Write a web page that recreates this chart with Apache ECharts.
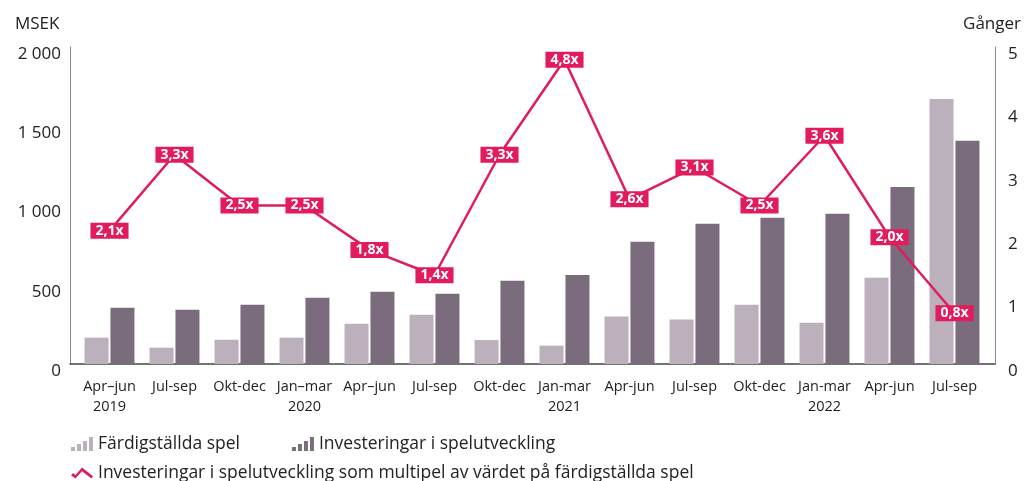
<!DOCTYPE html>
<html>
<head>
<meta charset="utf-8">
<script src="https://cdn.jsdelivr.net/npm/echarts@6/dist/echarts.min.js"></script>
<style>
  html, body { margin: 0; padding: 0; background: #fff; }
  #chart { width: 1031px; height: 481px; }
</style>
</head>
<body>
<div id="chart"></div>
<script>
const quarterLabels = ['Apr–jun', 'Jul-sep', 'Okt-dec', 'Jan–mar', 'Apr–jun', 'Jul-sep', 'Okt-dec',
  'Jan-mar', 'Apr-jun', 'Jul-sep', 'Okt-dec', 'Jan-mar', 'Apr-jun', 'Jul-sep'];
const yearLabels = ['2019', '', '', '2020', '', '', '', '2021', '', '', '', '2022', '', ''];
const completedGames = [166, 103, 153, 166, 254, 311, 151, 116, 299, 280, 374, 261, 544, 1672];
const gameInvestments = [355, 343, 374, 418, 456, 443, 526, 562, 772, 885, 923, 948, 1117, 1409];
const multiple = [2.1, 3.3, 2.5, 2.5, 1.8, 1.4, 3.3, 4.8, 2.6, 3.1, 2.5, 3.6, 2.0, 0.8];
const msekTicks = { min: 0, max: 2000, interval: 500 };
const timesTicks = { min: 0, max: 5, interval: 1 };

const FONT = 'Open Sans';
const TEXT = '#222';
const PINK = '#e11b5c';
const LIGHT = '#bcb0bc';
const DARK = '#7a6c7c';

const categories = quarterLabels.map((q, i) => (yearLabels[i] ? `${q}\n${yearLabels[i]}` : q));
const fmtThousands = (v) => String(v).replace(/\B(?=(\d{3})+(?!\d))/g, ' ');

const barIcon = 'path://M0,16h4v-4h-4z M6,16h4v-7h-4z M12,16h4v-10h-4z M18,16h4v-14h-4z';
const lineIcon = 'path://M0,8 L2,6 L4,8 L10,1 L20,9 L18.5,11 L10,4.5 L4,11 Z';

const chart = echarts.init(document.getElementById('chart'));

const hiddenY = (ticks) => ({
  gridIndex: 1, type: 'value', ...ticks, show: false,
});

// tick labels sit a few pixels under their tick in the original
const yLabel = (margin, formatter) => ({
  fontFamily: FONT, fontSize: 17, color: TEXT, margin,
  formatter: (v) => `{v|${formatter(v)}}`,
  rich: { v: { fontFamily: FONT, fontSize: 17, color: TEXT, padding: [14, 0, 0, 0] } },
});

const titleStyle = { fontFamily: FONT, fontSize: 17, fontWeight: 'normal', color: TEXT };
const legendText = { fontFamily: FONT, fontSize: 17.5, color: TEXT };

chart.setOption({
  animation: false,
  textStyle: { fontFamily: FONT, color: TEXT },
  title: [
    { text: 'MSEK', left: 10, top: 11, textStyle: titleStyle },
    { text: 'Gånger', right: 5, top: 11, textStyle: titleStyle },
  ],
  // grid 0 holds the frame and the visible y axes, grid 1 holds the data
  grid: [
    { left: 70, right: 36, top: 47, bottom: 117 },
    { left: 77, right: 44, top: 47, bottom: 117 },
  ],
  legend: [
    {
      left: 66, top: 430, itemGap: 52, itemWidth: 22, itemHeight: 16,
      textStyle: legendText,
      data: [
        { name: 'Färdigställda spel', icon: barIcon },
        { name: 'Investeringar i spelutveckling', icon: barIcon },
      ],
    },
    {
      left: 66, top: 459, itemWidth: 22, itemHeight: 12,
      textStyle: legendText,
      data: [{ name: 'Investeringar i spelutveckling som multipel av värdet på färdigställda spel', icon: lineIcon }],
    },
  ],
  xAxis: [
    {
      gridIndex: 0, type: 'value', min: 0, max: 1,
      axisLine: { show: true, lineStyle: { color: '#444', width: 1.5 } },
      axisTick: { show: false }, axisLabel: { show: false }, splitLine: { show: false },
    },
    {
      gridIndex: 1, type: 'category', data: categories,
      axisLine: { show: false }, axisTick: { show: false },
      axisLabel: { fontFamily: FONT, fontSize: 14.5, color: TEXT, lineHeight: 20, margin: 13, interval: 0 },
    },
  ],
  yAxis: [
    {
      gridIndex: 0, type: 'value', position: 'left', ...msekTicks,
      axisLine: { show: true, lineStyle: { color: '#888' } },
      axisTick: { show: false }, splitLine: { show: false },
      axisLabel: yLabel(9, fmtThousands),
    },
    {
      gridIndex: 0, type: 'value', position: 'right', ...timesTicks,
      axisLine: { show: true, lineStyle: { color: '#888' } },
      axisTick: { show: false }, splitLine: { show: false },
      axisLabel: yLabel(13, String),
    },
    hiddenY(msekTicks),
    hiddenY(timesTicks),
  ],
  series: [
    {
      name: 'Färdigställda spel', type: 'bar', xAxisIndex: 1, yAxisIndex: 2,
      data: completedGames, barWidth: 24, barGap: '8%', itemStyle: { color: LIGHT },
    },
    {
      name: 'Investeringar i spelutveckling', type: 'bar', xAxisIndex: 1, yAxisIndex: 2,
      data: gameInvestments, barWidth: 24, barGap: '8%', itemStyle: { color: DARK },
    },
    {
      name: 'Investeringar i spelutveckling som multipel av värdet på färdigställda spel',
      type: 'line', xAxisIndex: 1, yAxisIndex: 3, data: multiple,
      symbol: 'circle', symbolSize: 1, z: 5,
      itemStyle: { color: PINK },
      lineStyle: { color: PINK, width: 2.5 },
      label: {
        show: true, position: 'inside',
        formatter: (p) => `${p.value.toFixed(1).replace('.', ',')}x`,
        backgroundColor: PINK, color: '#fff', fontFamily: FONT, fontSize: 14, fontWeight: 'bold',
        padding: [2, 5, 0, 5],
      },
    },
  ],
});
</script>
</body>
</html>
